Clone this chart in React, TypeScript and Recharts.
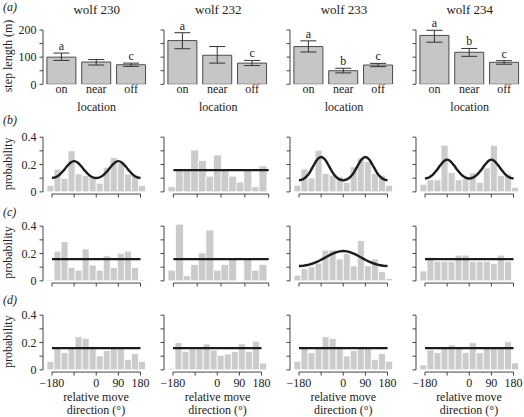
import React from "react";
import {
  ComposedChart,
  Bar,
  Line,
  XAxis,
  YAxis,
  ErrorBar,
  LabelList,
  ReferenceLine,
} from "recharts";

// ---------------- data ----------------
const wolves = ["wolf 230", "wolf 232", "wolf 233", "wolf 234"];
const locations = ["on", "near", "off"];

// (a) mean step length (m) with lower / upper error limits
const stepMean = [
  [100, 82, 72],
  [161, 107, 78],
  [139, 50, 71],
  [180, 118, 81],
];
const stepLow = [
  [88, 71, 66],
  [131, 78, 69],
  [119, 42, 65],
  [155, 103, 74],
];
const stepHigh = [
  [115, 91, 78],
  [190, 139, 88],
  [160, 59, 77],
  [199, 132, 87],
];
const sigLetters = [
  ["a", "", "c"],
  ["a", "", "c"],
  ["a", "b", "c"],
  ["a", "b", "c"],
];
const stepTicks = [0, 50, 100, 150, 200];
const stepTickLabels = ["0", "", "100", "", "200"];

// histogram bins (radians)
const binStartRad = -3.5;
const binWidthRad = 0.5;

// (b) densities
const densityB = [
  [0.046, 0.166, 0.098, 0.3, 0.132, 0.12, 0.112, 0.063, 0.18, 0.251, 0.212, 0.13, 0.12, 0.046],
  [0.037, 0.158, 0.158, 0.307, 0.23, 0.115, 0.27, 0.16, 0.115, 0.073, 0.16, 0.037, 0.19],
  [0.049, 0.168, 0.102, 0.305, 0.134, 0.122, 0.11, 0.068, 0.183, 0.247, 0.222, 0.134, 0.122, 0.049],
  [0.054, 0.088, 0.088, 0.341, 0.141, 0.088, 0.098, 0.138, 0.07, 0.175, 0.341, 0.12, 0.13, 0.034],
];
// (c) densities
const densityC = [
  [0.01, 0.217, 0.287, 0.098, 0.078, 0.234, 0.115, 0.078, 0.184, 0.098, 0.202, 0.217, 0.098, 0.01],
  [0.078, 0.415, 0.037, 0.12, 0.205, 0.372, 0.078, 0.12, 0.16, 0, 0.16, 0.078, 0.12],
  [0.042, 0.089, 0.103, 0.13, 0.225, 0.225, 0.16, 0.2, 0.11, 0.295, 0.11, 0.16, 0.067, 0.017],
  [0.072, 0.173, 0.143, 0.143, 0.143, 0.188, 0.188, 0.143, 0.143, 0.143, 0.128, 0.188, 0.143, 0.005],
];
// (d) densities
const densityD = [
  [0.063, 0.162, 0.126, 0.162, 0.242, 0.23, 0.172, 0.102, 0.141, 0.162, 0.162, 0.075, 0.119, 0.063],
  [0.012, 0.2, 0.136, 0.153, 0.153, 0.19, 0.145, 0.107, 0.116, 0.133, 0.19, 0.136, 0.21, 0.05],
  [0.063, 0.162, 0.126, 0.162, 0.242, 0.23, 0.172, 0.102, 0.141, 0.162, 0.162, 0.075, 0.119, 0.063],
  [0.036, 0.146, 0.126, 0.162, 0.182, 0.162, 0.126, 0.199, 0.126, 0.162, 0.162, 0.162, 0.206, 0.051],
];

// fitted curves (degrees, density)
const curveAngles = [
  -180, -165, -150, -135, -120, -105, -90, -75, -60, -45, -30, -15, 0,
  15, 30, 45, 60, 75, 90, 105, 120, 135, 150, 165, 180,
];
const fitB230 = [
  0.101, 0.107, 0.124, 0.152, 0.185, 0.213, 0.225, 0.213, 0.185, 0.152, 0.124, 0.107, 0.101,
  0.107, 0.124, 0.152, 0.185, 0.213, 0.225, 0.213, 0.185, 0.152, 0.124, 0.107, 0.101,
];
const fitB233 = [
  0.084, 0.091, 0.111, 0.147, 0.195, 0.238, 0.255, 0.238, 0.195, 0.147, 0.111, 0.091, 0.084,
  0.091, 0.111, 0.147, 0.195, 0.238, 0.255, 0.238, 0.195, 0.147, 0.111, 0.091, 0.084,
];
const fitB234 = [
  0.098, 0.104, 0.122, 0.152, 0.189, 0.222, 0.236, 0.222, 0.189, 0.152, 0.122, 0.104, 0.098,
  0.104, 0.122, 0.152, 0.189, 0.222, 0.236, 0.222, 0.189, 0.152, 0.122, 0.104, 0.098,
];
const fitC233 = [
  0.109, 0.11, 0.114, 0.121, 0.13, 0.141, 0.154, 0.169, 0.184, 0.198, 0.209, 0.216, 0.219,
  0.216, 0.209, 0.198, 0.184, 0.169, 0.154, 0.141, 0.13, 0.121, 0.114, 0.11, 0.109,
];
const uniformAngles = [-180, 180];
const uniformDensity = [0.159, 0.159];

const fitsB = [fitB230, null, fitB233, fitB234];
const fitsC = [null, null, fitC233, null];
const fitsD = [null, null, null, null];

const probTicks = [0, 0.1, 0.2, 0.3, 0.4];
const probTickLabels = ["0", "", "0.2", "", "0.4"];
const degTicks = [-180, -90, 0, 90, 180];
const degTickLabels = ["\u2212180", "", "0", "90", "180"];

// ---------------- layout ----------------
const FONT = "'Liberation Serif', 'Times New Roman', 'DejaVu Serif', serif";
const colX = [42.7, 164.3, 290, 415.7];
const PW = 106.5;
const YW = 40;
const MR = 8;
const Y_MIN = -0.016;
const Y_MAX = 0.416;
const PX_PER_UNIT = 136.7;
const zeroY = [192.1, 280.8, 370.0];
const AXIS = "#444";
const TEXT = "#222";

function StepPanel({ col }: { col: number }) {
  const data = locations.map((loc, i) => ({
    loc,
    mean: stepMean[col][i],
    err: [stepMean[col][i] - stepLow[col][i], stepHigh[col][i] - stepMean[col][i]],
    hi: stepHigh[col][i],
    letter: sigLetters[col][i],
  }));
  const MT = 20;
  const XH = 20;
  const plotTop = 30;
  const plotH = 54.3;
  return (
    <div style={{ position: "absolute", left: colX[col] - YW, top: plotTop - MT }}>
      <ComposedChart
        width={YW + PW + MR}
        height={MT + plotH + XH}
        data={data}
        margin={{ top: MT, right: MR, bottom: 0, left: 0 }}
        barCategoryGap={2.9}
      >
        <XAxis
          dataKey="loc"
          type="category"
          axisLine={false}
          tickLine={false}
          tickSize={0}
          tickMargin={0}
          padding={{ left: 1, right: 1 }}
          height={XH}
          interval={0}
          tick={{ fontSize: 12, fill: TEXT, fontFamily: FONT }}
        />
        <YAxis
          type="number"
          domain={[0, 200]}
          allowDataOverflow
          ticks={stepTicks}
          interval={0}
          tickFormatter={(v: number) => (col === 0 ? stepTickLabels[stepTicks.indexOf(v)] : "")}
          width={YW}
          axisLine={{ stroke: AXIS }}
          tickLine={{ stroke: AXIS }}
          tickSize={3.5}
          tickMargin={3}
          tick={{ fontSize: 12, fill: TEXT, fontFamily: FONT }}
        />
        <Bar dataKey="mean" fill="#c6c6c6" stroke="#4a4a4a" strokeWidth={1} isAnimationActive={false}>
          <ErrorBar dataKey="err" width={8} stroke="#333" strokeWidth={1} direction="y" />
        </Bar>
        <Line dataKey="hi" stroke="none" dot={false} activeDot={false} isAnimationActive={false}>
          <LabelList dataKey="letter" position="top" offset={3} fill={TEXT} fontSize={12} fontFamily={FONT} />
        </Line>
      </ComposedChart>
    </div>
  );
}

function HistPanel({
  col,
  row,
  values,
  fit,
}: {
  col: number;
  row: number;
  values: number[];
  fit: number[] | null;
}) {
  const n = values.length;
  const toDeg = 180 / Math.PI;
  const lo = binStartRad * toDeg;
  const hi = (binStartRad + n * binWidthRad) * toDeg;
  const padDeg = 0.04 * (hi - lo);
  const dMin = lo - padDeg;
  const dMax = hi + padDeg;
  const padPx = (PW * padDeg) / (dMax - dMin);
  const plotH = (Y_MAX - Y_MIN) * PX_PER_UNIT;
  const plotTop = zeroY[row] - Y_MAX * PX_PER_UNIT;
  const showX = row === 2;
  const XH = showX ? 24 : 10;
  const MT = 12;
  const data = values.map((p, i) => ({ bin: i, p }));
  const cx = fit ? curveAngles : uniformAngles;
  const cy = fit ? fit : uniformDensity;
  const curve = cx.map((x, i) => ({ x, y: cy[i] }));
  return (
    <div style={{ position: "absolute", left: colX[col] - YW, top: plotTop - MT }}>
      <ComposedChart
        width={YW + PW + MR}
        height={MT + plotH + XH}
        data={data}
        margin={{ top: MT, right: MR, bottom: 0, left: 0 }}
        barCategoryGap={0}
        barGap={0}
      >
        <XAxis
          xAxisId="deg"
          dataKey="x"
          type="number"
          domain={[dMin, dMax]}
          allowDataOverflow
          ticks={degTicks}
          interval={0}
          tickFormatter={(v: number) => (showX ? degTickLabels[degTicks.indexOf(v)] : "")}
          axisLine={false}
          tickLine={{ stroke: AXIS }}
          tickSize={3.5}
          tickMargin={3}
          height={XH}
          tick={{ fontSize: 12, fill: TEXT, fontFamily: FONT }}
        />
        <XAxis
          xAxisId="bins"
          dataKey="bin"
          type="category"
          hide
          height={0}
          padding={{ left: padPx, right: padPx }}
        />
        <YAxis
          type="number"
          domain={[Y_MIN, Y_MAX]}
          allowDataOverflow
          ticks={probTicks}
          interval={0}
          tickFormatter={(v: number) => (col === 0 ? probTickLabels[probTicks.indexOf(v)] : "")}
          width={YW}
          axisLine={false}
          tickLine={{ stroke: AXIS }}
          tickSize={3.5}
          tickMargin={3}
          tick={{ fontSize: 12, fill: TEXT, fontFamily: FONT }}
        />
        <Bar xAxisId="bins" dataKey="p" fill="#cbcbcb" stroke="#ffffff" strokeWidth={0.8} isAnimationActive={false} />
        <ReferenceLine
          xAxisId="deg"
          segment={[
            { x: -180, y: Y_MIN },
            { x: 180, y: Y_MIN },
          ]}
          stroke={AXIS}
          strokeWidth={1}
          ifOverflow="visible"
        />
        <ReferenceLine
          xAxisId="deg"
          segment={[
            { x: dMin, y: 0 },
            { x: dMin, y: 0.4 },
          ]}
          stroke={AXIS}
          strokeWidth={1}
          ifOverflow="visible"
        />
        <Line
          xAxisId="deg"
          data={curve}
          dataKey="y"
          type={fit ? "natural" : "linear"}
          stroke="#1c1c1c"
          strokeWidth={2.4}
          dot={false}
          activeDot={false}
          isAnimationActive={false}
        />
      </ComposedChart>
    </div>
  );
}

export default function App() {
  const rows = [densityB, densityC, densityD];
  const fits = [fitsB, fitsC, fitsD];
  const rowLetters = ["(b)", "(c)", "(d)"];
  const rowLetterY = [124.3, 216, 303.5];
  return (
    <div
      style={{
        position: "absolute",
        left: 0,
        top: 0,
        width: 524,
        height: 417,
        background: "#fff",
        overflow: "hidden",
        fontFamily: FONT,
      }}
    >
      {wolves.map((_, c) => (
        <StepPanel key={"a" + c} col={c} />
      ))}
      {rows.map((rowVals, r) =>
        rowVals.map((vals, c) => (
          <HistPanel key={"h" + r + c} col={c} row={r} values={vals} fit={fits[r][c]} />
        ))
      )}
      <svg
        width={524}
        height={417}
        style={{ position: "absolute", left: 0, top: 0, pointerEvents: "none" }}
        fontFamily={FONT}
        fill={TEXT}
      >
        <text x={3} y={11} fontSize={12} fontStyle="italic">
          (a)
        </text>
        {rowLetters.map((t, i) => (
          <text key={t} x={3} y={rowLetterY[i]} fontSize={12} fontStyle="italic">
            {t}
          </text>
        ))}
        {wolves.map((w, i) => (
          <text key={w} x={colX[i] + 54} y={14} fontSize={13} textAnchor="middle">
            {w}
          </text>
        ))}
        {colX.map((x, i) => (
          <text key={"loc" + i} x={x + 54} y={111} fontSize={12} textAnchor="middle">
            location
          </text>
        ))}
        {colX.map((x, i) => (
          <g key={"rm" + i}>
            <text x={x + 53.25} y={400.6} fontSize={12} textAnchor="middle">
              relative move
            </text>
            <text x={x + 53.25} y={414.3} fontSize={12} textAnchor="middle">
              direction (°)
            </text>
          </g>
        ))}
        <text transform="translate(12,56) rotate(-90)" fontSize={12} textAnchor="middle">
          step length (m)
        </text>
        {zeroY.map((z, i) => (
          <text key={"pr" + i} transform={`translate(12,${z - 28.3}) rotate(-90)`} fontSize={12} textAnchor="middle">
            probability
          </text>
        ))}
      </svg>
    </div>
  );
}
